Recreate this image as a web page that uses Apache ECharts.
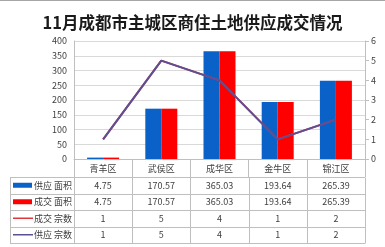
<!DOCTYPE html>
<html><head><meta charset="utf-8">
<script src="https://cdn.jsdelivr.net/npm/echarts@6/dist/echarts.min.js"></script>
<style>html,body{margin:0;padding:0;background:#fff}#c{width:385px;height:247px}</style>
</head><body><div id="c"></div>
<script>
const title = '11月成都市主城区商住土地供应成交情况';
const categories = ['青羊区','武侯区','成华区','金牛区','锦江区'];
const supplyArea = [4.75, 170.57, 365.03, 193.64, 265.39];
const dealArea = [4.75, 170.57, 365.03, 193.64, 265.39];
const dealCount = [1, 5, 4, 1, 2];
const supplyCount = [1, 5, 4, 1, 2];
const leftTicks = [0, 400, 50];
const rightTicks = [0, 6, 1];
const seriesNames = ['供应 面积','成交 面积','成交 宗数','供应 宗数'];

const FONT = '"Noto Sans CJK SC", "Noto Sans", sans-serif';
const colors = ['#0a62c8', '#ff0000', '#e0383c', '#5b4f96'];
const G = {left: 74, right: 20, top: 41, bottom: 88};
const W = 385, H = 247;

const chart = echarts.init(document.getElementById('c'));
const option = {
  animation: false,
  textStyle: {fontFamily: FONT},
  title: {text: title, left: 'center', top: 9, textStyle: {fontSize: 16.5, fontWeight: 'bold', color: '#1a1a1a', fontFamily: FONT}},
  grid: {left: G.left, right: G.right, top: G.top, bottom: G.bottom, containLabel: false},
  xAxis: {
    type: 'category', data: categories,
    axisLine: {lineStyle: {color: '#bfbfbf'}},
    axisTick: {show: true, length: 18, inside: false, lineStyle: {color: '#bfbfbf'}},
    axisLabel: {color: '#404040', fontSize: 9, margin: 5}
  },
  yAxis: [
    {type: 'value', min: leftTicks[0], max: leftTicks[1], interval: leftTicks[2],
     axisLine: {show: true, lineStyle: {color: '#bfbfbf'}}, axisTick: {show: false},
     splitLine: {lineStyle: {color: '#d9d9d9'}},
     axisLabel: {color: '#404040', fontSize: 9, margin: 7}},
    {type: 'value', min: rightTicks[0], max: rightTicks[1], interval: rightTicks[2],
     axisLine: {show: true, lineStyle: {color: '#bfbfbf'}},
     axisTick: {show: true, length: 4, lineStyle: {color: '#bfbfbf'}},
     splitLine: {show: false},
     axisLabel: {color: '#404040', fontSize: 9, margin: 6}}
  ],
  series: [
    {name: seriesNames[0], type: 'bar', data: supplyArea, barGap: '0%', barCategoryGap: '45%', itemStyle: {color: colors[0]}},
    {name: seriesNames[1], type: 'bar', data: dealArea, itemStyle: {color: colors[1]}},
    {name: seriesNames[2], type: 'line', yAxisIndex: 1, data: dealCount, symbol: 'none', lineStyle: {color: colors[2], width: 2}},
    {name: seriesNames[3], type: 'line', yAxisIndex: 1, data: supplyCount, symbol: 'none', lineStyle: {color: colors[3], width: 2}}
  ]
};
chart.setOption(option);

// data table under the axis
const rows = [supplyArea, dealArea, dealCount, supplyCount];
const tableLeft = 10, plotLeft = G.left, plotRight = W - G.right;
const rowTop = H - G.bottom + 18, rowH = 16.5;
const colW = (plotRight - plotLeft) / categories.length;
const lineColor = '#bfbfbf';
const els = [];
els.push({type: 'line', shape: {x1: 0, y1: 0.5, x2: W, y2: 0.5}, style: {stroke: '#a6a6a6', lineWidth: 1}});
for (let r = 0; r <= rows.length; r++) {
  const y = Math.round(rowTop + r * rowH) + 0.5;
  els.push({type: 'line', shape: {x1: tableLeft, y1: y, x2: plotRight, y2: y}, style: {stroke: lineColor, lineWidth: 1}});
}
const tBottom = Math.round(rowTop + rows.length * rowH) + 0.5;
els.push({type: 'line', shape: {x1: tableLeft + 0.5, y1: Math.round(rowTop) + 0.5, x2: tableLeft + 0.5, y2: tBottom}, style: {stroke: lineColor}});
for (let c = 0; c <= categories.length; c++) {
  const x = Math.round(plotLeft + c * colW) + 0.5;
  els.push({type: 'line', shape: {x1: x, y1: Math.round(rowTop) + 0.5, x2: x, y2: tBottom}, style: {stroke: lineColor}});
}
rows.forEach((vals, r) => {
  const cy = rowTop + (r + 0.5) * rowH;
  vals.forEach((v, c) => {
    const px = chart.convertToPixel({xAxisIndex: 0}, categories[c]);
    els.push({type: 'text', x: px, y: cy, style: {text: (r < 2 ? v.toFixed(2) : String(v)), fill: '#404040', font: '9px ' + FONT, align: 'center', verticalAlign: 'middle'}});
  });
  if (r < 2) {
    els.push({type: 'rect', shape: {x: 13, y: cy - 2.5, width: 19, height: 5}, style: {fill: colors[r]}});
  } else {
    els.push({type: 'line', shape: {x1: 13, y1: cy, x2: 33, y2: cy}, style: {stroke: colors[r], lineWidth: 1.5}});
  }
  els.push({type: 'text', x: 34, y: cy, style: {text: seriesNames[r], fill: '#404040', font: '9px ' + FONT, align: 'left', verticalAlign: 'middle'}});
});
chart.setOption({graphic: els});
</script></body></html>
